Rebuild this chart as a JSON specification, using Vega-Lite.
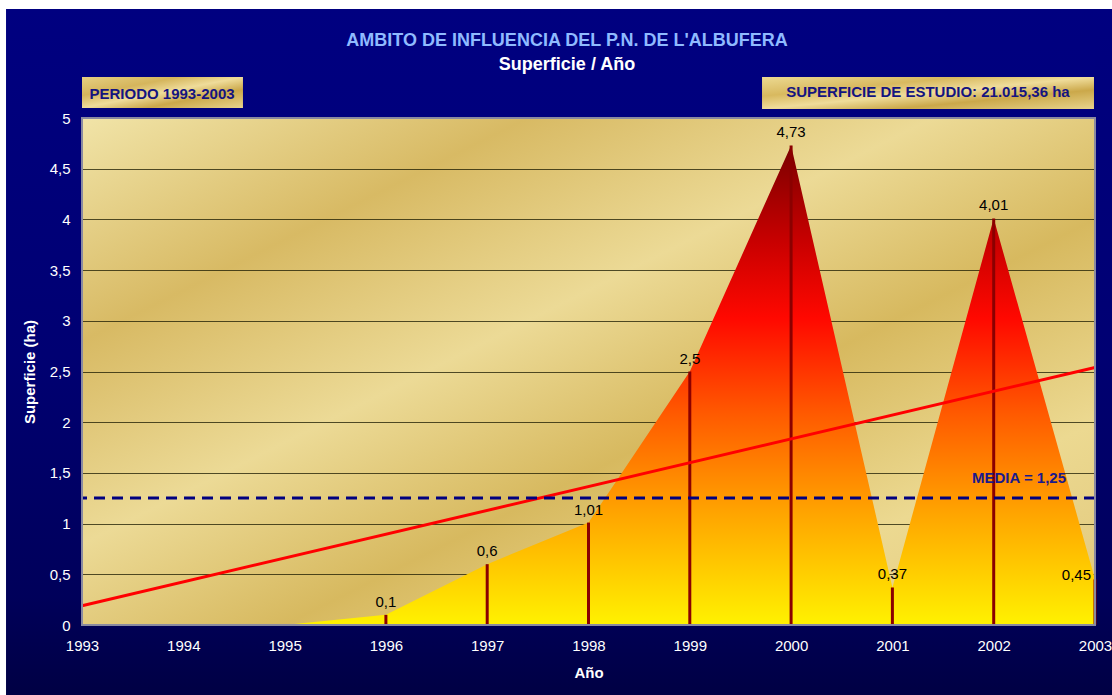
{
  "$schema": "https://vega.github.io/schema/vega-lite/v6.json",
  "width": 1013,
  "height": 507,
  "autosize": {"type": "none"},
  "padding": {"left": 82, "top": 118, "right": 17, "bottom": 70},
  "background": "#ffffff",
  "config": {
    "locale": {"number": {"decimal": ",", "thousands": ".", "grouping": [3], "currency": ["", " €"]}},
    "font": "Liberation Sans",
    "view": {
      "stroke": null,
      "fill": {"gradient": "linear", "x1": 0, "y1": 0, "x2": 1, "y2": 1,
        "stops": [
          {"offset": 0, "color": "#f1e4a8"},
          {"offset": 0.22, "color": "#d8ba64"},
          {"offset": 0.42, "color": "#ecda96"},
          {"offset": 0.6, "color": "#d7b95f"},
          {"offset": 0.8, "color": "#ecd991"},
          {"offset": 1, "color": "#e0c679"}
        ]}
    }
  },
  "data": {"values": [
    {"year": 1993, "value": 0},
    {"year": 1994, "value": 0},
    {"year": 1995, "value": 0},
    {"year": 1996, "value": 0.1},
    {"year": 1997, "value": 0.6},
    {"year": 1998, "value": 1.01},
    {"year": 1999, "value": 2.5},
    {"year": 2000, "value": 4.73},
    {"year": 2001, "value": 0.37},
    {"year": 2002, "value": 4.01},
    {"year": 2003, "value": 0.45}
  ]},
  "resolve": {"axis": {"x": "independent", "y": "independent"}},
  "layer": [
    {
      "data": {"values": [{}]},
      "mark": {"type": "rect", "fill": {"gradient": "linear", "x1": 0, "y1": 0, "x2": 0, "y2": 1,
        "stops": [{"offset": 0, "color": "#000080"}, {"offset": 0.5, "color": "#000072"}, {"offset": 0.85, "color": "#00005a"}, {"offset": 1, "color": "#000042"}]}},
      "encoding": {
        "x": {"datum": 1992.25, "type": "quantitative", "axis": null},
        "x2": {"datum": 1993},
        "y": {"datum": 6.075, "type": "quantitative", "axis": null},
        "y2": {"datum": -0.75}
      }
    },
    {
      "data": {"values": [{}]},
      "mark": {"type": "rect", "fill": {"gradient": "linear", "x1": 0, "y1": 0, "x2": 0, "y2": 1,
        "stops": [{"offset": 0, "color": "#000080"}, {"offset": 0.5, "color": "#000072"}, {"offset": 0.85, "color": "#00005a"}, {"offset": 1, "color": "#000042"}]}},
      "encoding": {
        "x": {"datum": 2003, "type": "quantitative", "axis": null},
        "x2": {"datum": 2003.5},
        "y": {"datum": 6.075, "type": "quantitative", "axis": null},
        "y2": {"datum": -0.75}
      }
    },
    {
      "data": {"values": [{}]},
      "mark": {"type": "rect", "fill": {"gradient": "linear", "x1": 0, "y1": 0, "x2": 0, "y2": 1,
        "stops": [{"offset": 0, "color": "#000080"}, {"offset": 1, "color": "#00007d"}]}},
      "encoding": {
        "x": {"datum": 1993, "type": "quantitative", "axis": null},
        "x2": {"datum": 2003},
        "y": {"datum": 6.075, "type": "quantitative", "axis": null},
        "y2": {"datum": 5}
      }
    },
    {
      "data": {"values": [{}]},
      "mark": {"type": "rect", "fill": {"gradient": "linear", "x1": 0, "y1": 0, "x2": 0, "y2": 1,
        "stops": [{"offset": 0, "color": "#000054"}, {"offset": 1, "color": "#000042"}]}},
      "encoding": {
        "x": {"datum": 1993, "type": "quantitative", "axis": null},
        "x2": {"datum": 2003},
        "y": {"datum": 0, "type": "quantitative", "axis": null},
        "y2": {"datum": -0.75}
      }
    },
    {
      "mark": {"type": "area", "interpolate": "linear", "fill": {"gradient": "linear", "x1": 0, "y1": 0, "x2": 0, "y2": 1,
        "stops": [
          {"offset": 0, "color": "#7a0000"},
          {"offset": 0.2, "color": "#c80000"},
          {"offset": 0.36, "color": "#ff0800"},
          {"offset": 0.56, "color": "#ff5a00"},
          {"offset": 0.76, "color": "#ffa200"},
          {"offset": 1, "color": "#fff200"}
        ]}},
      "encoding": {
        "x": {"field": "year", "type": "quantitative",
          "scale": {"domain": [1993, 2003], "nice": false, "zero": false},
          "axis": {"orient": "bottom", "format": "d", "tickCount": 10, "title": "Año", "domain": false, "ticks": false, "grid": false,
            "labelColor": "#ffffff", "labelFontSize": 15, "labelPadding": 13, "labelFlush": false,
            "titleColor": "#ffffff", "titleFontSize": 15, "titleFontWeight": "bold", "titlePadding": 12, "zindex": 1}},
        "y": {"field": "value", "type": "quantitative",
          "scale": {"domain": [0, 5], "nice": false},
          "axis": {"orient": "left", "grid": true, "gridColor": "#1a1a00", "gridOpacity": 0.75, "gridWidth": 1,
            "labels": false, "ticks": false, "domain": false, "title": null, "tickCount": 10, "zindex": 0}}
      }
    },
    {
      "transform": [{"filter": "datum.value > 0"}],
      "mark": {"type": "rule", "color": "#8b0000", "strokeWidth": 3},
      "encoding": {
        "x": {"field": "year", "type": "quantitative", "axis": null},
        "y": {"field": "value", "type": "quantitative",
          "axis": {"orient": "left", "grid": false, "ticks": false, "domain": false, "tickCount": 10, "format": "~g",
            "title": "Superficie (ha)", "labelColor": "#ffffff", "labelFontSize": 15, "labelPadding": 12,
            "titleColor": "#ffffff", "titleFontSize": 15, "titleFontWeight": "bold", "titlePadding": 12, "zindex": 1}},
        "y2": {"datum": 0}
      }
    },
    {
      "data": {"values": [{"year": 1993, "trend": 0.19}, {"year": 2003, "trend": 2.54}]},
      "mark": {"type": "line", "color": "#ff0000", "strokeWidth": 3},
      "encoding": {
        "x": {"field": "year", "type": "quantitative", "axis": null},
        "y": {"field": "trend", "type": "quantitative", "axis": null}
      }
    },
    {
      "mark": {"type": "rule", "color": "#000080", "strokeWidth": 3, "strokeDash": [11, 7]},
      "encoding": {
        "y": {"aggregate": "mean", "field": "value", "type": "quantitative", "axis": null}
      }
    },
    {
      "transform": [{"filter": "datum.value > 0 && datum.year < 2003"}],
      "mark": {"type": "text", "baseline": "bottom", "dy": -5, "fontSize": 15, "color": "#000000"},
      "encoding": {
        "x": {"field": "year", "type": "quantitative", "axis": null},
        "y": {"field": "value", "type": "quantitative", "axis": null},
        "text": {"field": "value", "type": "quantitative", "format": ".3~g"}
      }
    },
    {
      "transform": [{"filter": "datum.year == 2003"}],
      "mark": {"type": "text", "baseline": "bottom", "align": "right", "dx": -4, "dy": 4, "fontSize": 15, "color": "#000000"},
      "encoding": {
        "x": {"field": "year", "type": "quantitative", "axis": null},
        "y": {"field": "value", "type": "quantitative", "axis": null},
        "text": {"field": "value", "type": "quantitative", "format": ".3~g"}
      }
    },
    {
      "data": {"values": [{}]},
      "mark": {"type": "rect", "filled": false, "stroke": "#8a8aa0", "strokeWidth": 2},
      "encoding": {
        "x": {"datum": 1993, "type": "quantitative", "axis": null},
        "x2": {"datum": 2003},
        "y": {"datum": 0, "type": "quantitative", "axis": null},
        "y2": {"datum": 5}
      }
    },
    {
      "data": {"values": [{}]},
      "mark": {"type": "text", "text": "AMBITO DE INFLUENCIA DEL P.N. DE L'ALBUFERA", "fontSize": 18, "fontWeight": "bold", "color": "#8fbaff", "align": "center", "baseline": "alphabetic"},
      "encoding": {
        "x": {"datum": 1997.788, "type": "quantitative", "axis": null},
        "y": {"datum": 5.71, "type": "quantitative", "axis": null}
      }
    },
    {
      "data": {"values": [{}]},
      "mark": {"type": "text", "text": "Superficie / Año", "fontSize": 18, "fontWeight": "bold", "color": "#ffffff", "align": "center", "baseline": "alphabetic"},
      "encoding": {
        "x": {"datum": 1997.788, "type": "quantitative", "axis": null},
        "y": {"datum": 5.473, "type": "quantitative", "axis": null}
      }
    },
    {
      "data": {"values": [{}]},
      "mark": {"type": "rect", "fill": {"gradient": "linear", "x1": 0, "y1": 0, "x2": 1, "y2": 1,
        "stops": [{"offset": 0, "color": "#e6cf82"}, {"offset": 0.3, "color": "#d5b55c"}, {"offset": 0.5, "color": "#efdc9a"}, {"offset": 0.7, "color": "#cba84a"}, {"offset": 1, "color": "#e8d48c"}]}},
      "encoding": {
        "x": {"datum": 1993, "type": "quantitative", "axis": null},
        "x2": {"datum": 1994.589},
        "y": {"datum": 5.404, "type": "quantitative", "axis": null},
        "y2": {"datum": 5.099}
      }
    },
    {
      "data": {"values": [{}]},
      "mark": {"type": "text", "text": "PERIODO 1993-2003", "fontSize": 15, "fontWeight": "bold", "color": "#141480", "align": "center", "baseline": "alphabetic"},
      "encoding": {
        "x": {"datum": 1993.79, "type": "quantitative", "axis": null},
        "y": {"datum": 5.187, "type": "quantitative", "axis": null}
      }
    },
    {
      "data": {"values": [{}]},
      "mark": {"type": "rect", "fill": {"gradient": "linear", "x1": 0, "y1": 0, "x2": 1, "y2": 1,
        "stops": [{"offset": 0, "color": "#ecd992"}, {"offset": 0.3, "color": "#d8b95f"}, {"offset": 0.5, "color": "#efdc9a"}, {"offset": 0.7, "color": "#cba84a"}, {"offset": 1, "color": "#e8d48c"}]}},
      "encoding": {
        "x": {"datum": 1999.713, "type": "quantitative", "axis": null},
        "x2": {"datum": 2002.99},
        "y": {"datum": 5.404, "type": "quantitative", "axis": null},
        "y2": {"datum": 5.089}
      }
    },
    {
      "data": {"values": [{}]},
      "mark": {"type": "text", "text": "SUPERFICIE DE ESTUDIO: 21.015,36 ha", "fontSize": 15, "fontWeight": "bold", "color": "#141480", "align": "center", "baseline": "alphabetic"},
      "encoding": {
        "x": {"datum": 2001.351, "type": "quantitative", "axis": null},
        "y": {"datum": 5.21, "type": "quantitative", "axis": null}
      }
    },
    {
      "data": {"values": [{}]},
      "mark": {"type": "text", "text": "MEDIA = 1,25", "fontSize": 15, "fontWeight": "bold", "color": "#1a1a8c", "align": "center", "baseline": "alphabetic"},
      "encoding": {
        "x": {"datum": 2002.25, "type": "quantitative", "axis": null},
        "y": {"datum": 1.404, "type": "quantitative", "axis": null}
      }
    }
  ]
}
